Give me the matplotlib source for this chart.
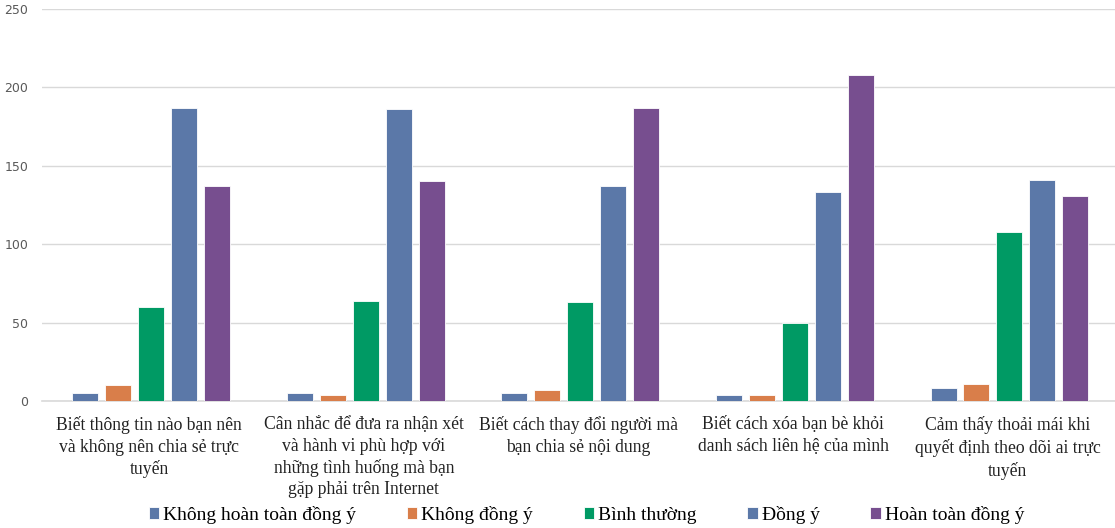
import matplotlib.pyplot as plt
import numpy as np

# Nhom cau hoi (truc x)
categories = [
    "Biết thông tin nào bạn nên\nvà không nên chia sẻ trực\ntuyến",
    "Cân nhắc để đưa ra nhận xét\nvà hành vi phù hợp với\nnhững tình huống mà bạn\ngặp phải trên Internet",
    "Biết cách thay đổi người mà\nbạn chia sẻ nội dung",
    "Biết cách xóa bạn bè khỏi\ndanh sách liên hệ của mình",
    "Cảm thấy thoải mái khi\nquyết định theo dõi ai trực\ntuyến",
]
series_names = ["Không hoàn toàn đồng ý", "Không đồng ý", "Bình thường", "Đồng ý", "Hoàn toàn đồng ý"]
khong_hoan_toan = [5, 5, 5, 4, 8]
khong_dong_y = [10, 4, 7, 4, 11]
binh_thuong = [60, 64, 63, 50, 108]
dong_y = [187, 186, 137, 133, 141]
hoan_toan = [137, 140, 187, 208, 131]
series = [khong_hoan_toan, khong_dong_y, binh_thuong, dong_y, hoan_toan]
colors = ["#5B78A8", "#D97E4A", "#009A64", "#5B78A8", "#774E8F"]

fig = plt.figure(figsize=(11.15, 5.28), dpi=100)
ax = fig.add_axes([0.0377, 0.2405, 0.9623, 0.7425])

x = np.arange(len(categories))
slot = 0.1535
w = 0.121
for i, (vals, c, name) in enumerate(zip(series, colors, series_names)):
    ax.bar(x + (i - 2) * slot + 0.008, vals, width=w, color=c, label=name,
           edgecolor="white", linewidth=0.6, zorder=3)

ax.set_xlim(-0.5, len(categories) - 0.5)
ax.set_ylim(0, 250)
ax.set_yticks(range(0, 251, 50))
ax.yaxis.grid(True, color="#D9D9D9", linewidth=1, zorder=0)
for s in ["top", "right", "left"]:
    ax.spines[s].set_visible(False)
ax.spines["bottom"].set_color("#D9D9D9")
ax.spines["bottom"].set_linewidth(1.2)
ax.tick_params(axis="both", length=0)
ax.tick_params(axis="y", labelsize=9, labelcolor="#595959", pad=10)
ax.set_xticks(x)
ax.set_xticklabels(categories, fontfamily="Liberation Serif", fontsize=12.7,
                   color="#222222", linespacing=1.33)
ax.tick_params(axis="x", pad=11)

fig.legend(loc="center", bbox_to_anchor=(0.526, 0.025), ncol=5, frameon=False,
           prop={"family": "Liberation Serif", "size": 14},
           handlelength=0.55, handleheight=0.55, handletextpad=0.2,
           columnspacing=2.6)

plt.savefig("out.png")
